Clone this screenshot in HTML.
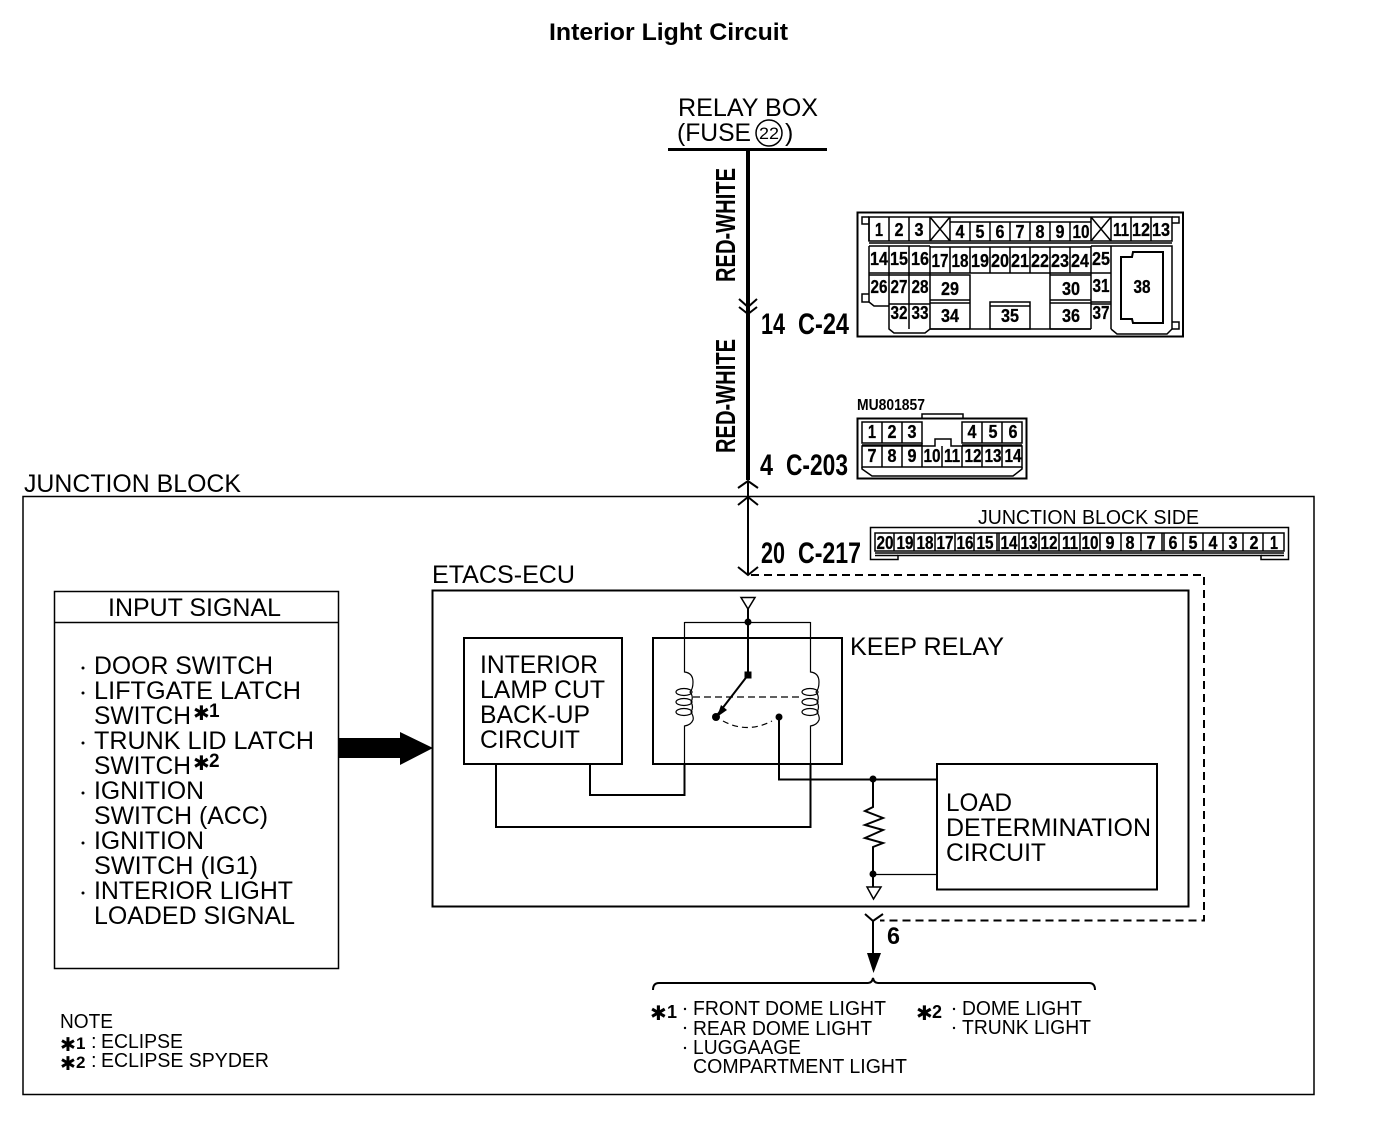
<!DOCTYPE html>
<html><head><meta charset="utf-8"><style>
html,body{margin:0;padding:0;background:#fff;width:1376px;height:1124px;overflow:hidden}
svg{display:block}
text{font-family:"Liberation Sans",sans-serif;fill:#000}
.b{font-size:25px}
.m{font-size:20px}
.h{font-weight:bold;font-size:30px}
.w{font-weight:bold;font-size:28px}
.n{font-weight:bold;font-size:18px;text-anchor:middle;stroke:#000;stroke-width:.3}
.s{font-family:"DejaVu Sans",sans-serif;font-weight:bold}
.l{fill:none;stroke:#000;stroke-width:2}
.c{fill:none;stroke:#000;stroke-width:1.5}
.f{fill:none;stroke:#000;stroke-width:1.2}
</style></head><body>
<svg width="1376" height="1124" viewBox="0 0 1376 1124" xmlns="http://www.w3.org/2000/svg">
<rect width="1376" height="1124" fill="#fff"/>
<text x="549" y="40" font-size="24" font-weight="bold" textLength="239" lengthAdjust="spacingAndGlyphs">Interior Light Circuit</text>

<!-- top feed -->
<text class="b" x="678" y="116" textLength="140" lengthAdjust="spacingAndGlyphs">RELAY BOX</text>
<text class="b" x="677" y="141" textLength="74" lengthAdjust="spacingAndGlyphs">(FUSE</text>
<circle cx="769" cy="133" r="13" class="c"/>
<text x="769" y="139" font-size="17" text-anchor="middle" textLength="20" lengthAdjust="spacingAndGlyphs">22</text>
<text class="b" x="785" y="141">)</text>
<path d="M668 149.500H827" stroke="#000" stroke-width="3" fill="none"/>
<path d="M748 149V480" stroke="#000" stroke-width="4" fill="none"/>
<text class="w" transform="translate(735,282) rotate(-90)" textLength="114" lengthAdjust="spacingAndGlyphs">RED-WHITE</text>
<text class="w" transform="translate(735,453) rotate(-90)" textLength="114" lengthAdjust="spacingAndGlyphs">RED-WHITE</text>
<path class="l" d="M739 299L748 307L757 299M739 307L748 314L757 307"/>
<text class="h" x="761" y="334" textLength="24" lengthAdjust="spacingAndGlyphs">14</text>
<text class="h" x="798" y="334" textLength="51" lengthAdjust="spacingAndGlyphs">C-24</text>
<text class="h" x="760" y="475" textLength="13" lengthAdjust="spacingAndGlyphs">4</text>
<text class="h" x="786" y="475" textLength="62" lengthAdjust="spacingAndGlyphs">C-203</text>
<text class="h" x="761" y="563" textLength="24" lengthAdjust="spacingAndGlyphs">20</text>
<text class="h" x="798" y="563" textLength="63" lengthAdjust="spacingAndGlyphs">C-217</text>
<path class="l" d="M738 488L748 481L758 488M738 505L748 497L758 505M738 567L748 575L758 567"/>
<path class="l" d="M748 481V575"/>
<path class="l" stroke-dasharray="8 5" d="M751 575H1204V920.500H880"/>

<!-- C-24 connector -->
<rect x="857.500" y="212.500" width="325.500" height="124" class="l"/>
<g class="c">
<path d="M869 217H1172V241H869Z"/>
<path d="M950 222H1091"/>
<path d="M869 217V241M889 217V241M909 217V241M930 217V241M950 217V241M970 222V241M990 222V241M1010 222V241M1030 222V241M1050 222V241M1070 222V241M1091 217V241M1111 217V241M1131 217V241M1151 217V241"/>
<path d="M930 217L950 241M950 217L930 241M1091 241L1111 217M1091 217L1111 241"/>
<path d="M869 243H1172"/>
<path d="M869 246V302L874 306H889V329L894 333H925L930 329H1091M869 273H930M869 275H930M889 246V329M909 246V329M930 246V329M889 304H930M869 246H930"/>
<path d="M930 247H1091M950 247V273M970 247V273M990 247V273M1010 247V273M1030 247V273M1050 247V273M1070 247V273M930 273H1091"/>
<path d="M930 275H970V329M930 300H970M930 303H970M930 329H970"/>
<path d="M1050 273V329M1050 275H1091M1050 300H1091M1050 303H1091M1050 329H1091"/>
<path d="M990 302H1030V329H990ZM990 306H1030"/>
<path d="M1091 246V329M1111 246V329M1091 246H1111M1091 273H1111M1091 302H1111M1091 304H1111"/>
<path d="M1111 246H1172V329L1167 334H1117L1111 329"/>
<path d="M1121 257H1132L1133 252H1163V323H1133L1132 319H1121Z" stroke-width="2"/>
<path d="M869 217H862V224H869M869 294H862V302H869M1172 217H1179V223H1172M1172 322H1179V329H1172"/>
</g>
<g class="n">
<text x="879" y="236" textLength="8" lengthAdjust="spacingAndGlyphs">1</text><text x="899" y="236" textLength="9" lengthAdjust="spacingAndGlyphs">2</text><text x="919" y="236" textLength="9" lengthAdjust="spacingAndGlyphs">3</text>
<text x="960" y="238" textLength="9" lengthAdjust="spacingAndGlyphs">4</text><text x="980" y="238" textLength="9" lengthAdjust="spacingAndGlyphs">5</text><text x="1000" y="238" textLength="9" lengthAdjust="spacingAndGlyphs">6</text><text x="1020" y="238" textLength="9" lengthAdjust="spacingAndGlyphs">7</text><text x="1040" y="238" textLength="9" lengthAdjust="spacingAndGlyphs">8</text><text x="1060" y="238" textLength="9" lengthAdjust="spacingAndGlyphs">9</text><text x="1081" y="238" textLength="17" lengthAdjust="spacingAndGlyphs">10</text>
<text x="1121" y="236" textLength="16" lengthAdjust="spacingAndGlyphs">11</text><text x="1141" y="236" textLength="18" lengthAdjust="spacingAndGlyphs">12</text><text x="1161" y="236" textLength="18" lengthAdjust="spacingAndGlyphs">13</text>
<text x="879" y="265" textLength="18" lengthAdjust="spacingAndGlyphs">14</text><text x="899" y="265" textLength="18" lengthAdjust="spacingAndGlyphs">15</text><text x="920" y="265" textLength="18" lengthAdjust="spacingAndGlyphs">16</text>
<text x="940" y="267" textLength="17" lengthAdjust="spacingAndGlyphs">17</text><text x="960" y="267" textLength="17" lengthAdjust="spacingAndGlyphs">18</text><text x="980" y="267" textLength="18" lengthAdjust="spacingAndGlyphs">19</text><text x="1000" y="267" textLength="18" lengthAdjust="spacingAndGlyphs">20</text><text x="1020" y="267" textLength="18" lengthAdjust="spacingAndGlyphs">21</text><text x="1040" y="267" textLength="18" lengthAdjust="spacingAndGlyphs">22</text><text x="1060" y="267" textLength="18" lengthAdjust="spacingAndGlyphs">23</text><text x="1080" y="267" textLength="18" lengthAdjust="spacingAndGlyphs">24</text>
<text x="1101" y="265" textLength="18" lengthAdjust="spacingAndGlyphs">25</text>
<text x="879" y="293" textLength="17" lengthAdjust="spacingAndGlyphs">26</text><text x="899" y="293" textLength="17" lengthAdjust="spacingAndGlyphs">27</text><text x="920" y="293" textLength="17" lengthAdjust="spacingAndGlyphs">28</text>
<text x="950" y="295" textLength="18" lengthAdjust="spacingAndGlyphs">29</text><text x="1071" y="295" textLength="18" lengthAdjust="spacingAndGlyphs">30</text><text x="1101" y="292" textLength="17" lengthAdjust="spacingAndGlyphs">31</text><text x="1142" y="293" textLength="17" lengthAdjust="spacingAndGlyphs">38</text>
<text x="899" y="319" textLength="17" lengthAdjust="spacingAndGlyphs">32</text><text x="920" y="319" textLength="17" lengthAdjust="spacingAndGlyphs">33</text>
<text x="950" y="322" textLength="18" lengthAdjust="spacingAndGlyphs">34</text><text x="1010" y="322" textLength="18" lengthAdjust="spacingAndGlyphs">35</text><text x="1071" y="322" textLength="18" lengthAdjust="spacingAndGlyphs">36</text><text x="1101" y="319" textLength="17" lengthAdjust="spacingAndGlyphs">37</text>
</g>

<!-- C-203 connector -->
<text x="857" y="410" font-size="16" font-weight="bold" textLength="68" lengthAdjust="spacingAndGlyphs">MU801857</text>
<g class="c">
<path d="M857.500 418.500H1026.500V478.500H857.500Z" stroke-width="2"/>
<path d="M922 418V414H963V418"/>
<path d="M862 422H922V443H862ZM882 422V443M902 422V443M962 422H1022V443H962ZM982 422V443M1002 422V443M862 445H922M962 445H1022"/>
<path d="M862 446H935V439H951V446H1022V467H862ZM882 446V467M902 446V467M922 443V467M942 446V467M962 446V467M982 446V467M1002 446V467"/>
<path d="M862 467V469L872 476H1013L1022 469V467"/>
</g>
<g class="n">
<text x="872" y="438" textLength="8" lengthAdjust="spacingAndGlyphs">1</text><text x="892" y="438" textLength="9" lengthAdjust="spacingAndGlyphs">2</text><text x="912" y="438" textLength="9" lengthAdjust="spacingAndGlyphs">3</text><text x="972" y="438" textLength="9" lengthAdjust="spacingAndGlyphs">4</text><text x="993" y="438" textLength="9" lengthAdjust="spacingAndGlyphs">5</text><text x="1013" y="438" textLength="9" lengthAdjust="spacingAndGlyphs">6</text>
<text x="872" y="462" textLength="9" lengthAdjust="spacingAndGlyphs">7</text><text x="892" y="462" textLength="9" lengthAdjust="spacingAndGlyphs">8</text><text x="912" y="462" textLength="9" lengthAdjust="spacingAndGlyphs">9</text><text x="932" y="462" textLength="17" lengthAdjust="spacingAndGlyphs">10</text><text x="952" y="462" textLength="16" lengthAdjust="spacingAndGlyphs">11</text><text x="973" y="462" textLength="17" lengthAdjust="spacingAndGlyphs">12</text><text x="993" y="462" textLength="17" lengthAdjust="spacingAndGlyphs">13</text><text x="1013" y="462" textLength="17" lengthAdjust="spacingAndGlyphs">14</text>
</g>

<!-- junction block -->
<rect x="23" y="496.500" width="1291" height="598" class="c"/>
<text class="b" x="24" y="492" textLength="217" lengthAdjust="spacingAndGlyphs">JUNCTION BLOCK</text>
<text class="m" x="978" y="524" textLength="221" lengthAdjust="spacingAndGlyphs">JUNCTION BLOCK SIDE</text>

<!-- C-217 connector -->
<g class="c">
<path d="M870.500 527.500H1288.500V559.500H1261V555.500H898V559.500H870.500Z"/>
<path d="M875 533H1284V551H875Z"/>
<path d="M894 533V551M914 533V551M935 533V551M955 533V551M974 533V551M997 533V551M999 533V551M1019 533V551M1039 533V551M1059 533V551M1080 533V551M1100 533V551M1121 533V551M1141 533V551M1162 533V551M1164 533V551M1183 533V551M1203 533V551M1223 533V551M1243 533V551M1263 533V551"/>
<path d="M875 553H1284M875 555.500H898M1261 555.500H1284"/>
</g>
<g class="n">
<text x="885" y="549" textLength="17" lengthAdjust="spacingAndGlyphs">20</text><text x="905" y="549" textLength="17" lengthAdjust="spacingAndGlyphs">19</text><text x="925" y="549" textLength="17" lengthAdjust="spacingAndGlyphs">18</text><text x="945" y="549" textLength="17" lengthAdjust="spacingAndGlyphs">17</text><text x="965" y="549" textLength="17" lengthAdjust="spacingAndGlyphs">16</text><text x="985" y="549" textLength="17" lengthAdjust="spacingAndGlyphs">15</text><text x="1009" y="549" textLength="17" lengthAdjust="spacingAndGlyphs">14</text><text x="1029" y="549" textLength="17" lengthAdjust="spacingAndGlyphs">13</text><text x="1049" y="549" textLength="17" lengthAdjust="spacingAndGlyphs">12</text><text x="1070" y="549" textLength="16" lengthAdjust="spacingAndGlyphs">11</text><text x="1090" y="549" textLength="17" lengthAdjust="spacingAndGlyphs">10</text>
<text x="1110" y="549" textLength="9" lengthAdjust="spacingAndGlyphs">9</text><text x="1130" y="549" textLength="9" lengthAdjust="spacingAndGlyphs">8</text><text x="1151" y="549" textLength="9" lengthAdjust="spacingAndGlyphs">7</text><text x="1173" y="549" textLength="9" lengthAdjust="spacingAndGlyphs">6</text><text x="1193" y="549" textLength="9" lengthAdjust="spacingAndGlyphs">5</text><text x="1213" y="549" textLength="9" lengthAdjust="spacingAndGlyphs">4</text><text x="1233" y="549" textLength="9" lengthAdjust="spacingAndGlyphs">3</text><text x="1254" y="549" textLength="9" lengthAdjust="spacingAndGlyphs">2</text><text x="1274" y="549" textLength="8" lengthAdjust="spacingAndGlyphs">1</text>
</g>

<!-- input signal -->
<rect x="54.500" y="591.500" width="284" height="377" class="c"/>
<path class="c" d="M54 622.500H338"/>
<text class="b" x="108" y="616" textLength="173" lengthAdjust="spacingAndGlyphs">INPUT SIGNAL</text>
<g fill="#000">
<circle cx="83" cy="668" r="1.500"/><circle cx="83" cy="693" r="1.500"/><circle cx="83" cy="743" r="1.500"/><circle cx="83" cy="793" r="1.500"/><circle cx="83" cy="843" r="1.500"/><circle cx="83" cy="893" r="1.500"/>
</g>
<text class="b" x="94" y="674" textLength="179" lengthAdjust="spacingAndGlyphs">DOOR SWITCH</text>
<text class="b" x="94" y="699" textLength="207" lengthAdjust="spacingAndGlyphs">LIFTGATE LATCH</text>
<text class="b" x="94" y="724" textLength="97" lengthAdjust="spacingAndGlyphs">SWITCH</text>
<text class="s" x="193" y="720" font-size="20">✱</text>
<text x="209" y="717" font-size="19" font-weight="bold">1</text>
<text class="b" x="94" y="749" textLength="220" lengthAdjust="spacingAndGlyphs">TRUNK LID LATCH</text>
<text class="b" x="94" y="774" textLength="97" lengthAdjust="spacingAndGlyphs">SWITCH</text>
<text class="s" x="193" y="770" font-size="20">✱</text>
<text x="209" y="767" font-size="19" font-weight="bold">2</text>
<text class="b" x="94" y="799" textLength="110" lengthAdjust="spacingAndGlyphs">IGNITION</text>
<text class="b" x="94" y="824" textLength="174" lengthAdjust="spacingAndGlyphs">SWITCH (ACC)</text>
<text class="b" x="94" y="849" textLength="110" lengthAdjust="spacingAndGlyphs">IGNITION</text>
<text class="b" x="94" y="874" textLength="164" lengthAdjust="spacingAndGlyphs">SWITCH (IG1)</text>
<text class="b" x="94" y="899" textLength="199" lengthAdjust="spacingAndGlyphs">INTERIOR LIGHT</text>
<text class="b" x="94" y="924" textLength="201" lengthAdjust="spacingAndGlyphs">LOADED SIGNAL</text>
<path d="M339 738H400V732L433 748L400 765V758H339Z" fill="#000"/>

<!-- ETACS -->
<text class="b" x="432" y="583" textLength="143" lengthAdjust="spacingAndGlyphs">ETACS-ECU</text>
<rect x="432.500" y="590.500" width="756" height="316" class="l"/>
<path d="M741 597.500H755L748 609Z" class="c" fill="#fff"/>
<path class="l" d="M748 609V675"/>
<circle cx="748" cy="622" r="3.500"/>
<path class="f" d="M684.500 622.500H810.500"/>
<rect x="464" y="638" width="158" height="126" class="l"/>
<text class="b" x="480" y="673" textLength="118" lengthAdjust="spacingAndGlyphs">INTERIOR</text>
<text class="b" x="480" y="698" textLength="125" lengthAdjust="spacingAndGlyphs">LAMP CUT</text>
<text class="b" x="480" y="723" textLength="110" lengthAdjust="spacingAndGlyphs">BACK-UP</text>
<text class="b" x="480" y="748" textLength="100" lengthAdjust="spacingAndGlyphs">CIRCUIT</text>
<rect x="653" y="638" width="189" height="126" class="l"/>
<text class="b" x="850" y="655" textLength="154" lengthAdjust="spacingAndGlyphs">KEEP RELAY</text>

<!-- coils -->
<path class="f" d="M684.500 622V672Q693 673 693 682Q693 689 690 692Q694 697 691 702Q694 707 691 712Q694 717 693 720Q691 725 684.500 726V765"/>
<path class="f" d="M810.500 622V672Q819 673 819 682Q819 689 816 692Q820 697 817 702Q820 707 817 712Q820 717 819 720Q817 725 810.500 726V765"/>
<g class="f">
<ellipse cx="684" cy="692" rx="8" ry="3.500"/><ellipse cx="684" cy="702" rx="8" ry="3.500"/><ellipse cx="684" cy="712" rx="8" ry="3.500"/>
<ellipse cx="810" cy="692" rx="8" ry="3.500"/><ellipse cx="810" cy="702" rx="8" ry="3.500"/><ellipse cx="810" cy="712" rx="8" ry="3.500"/>
</g>
<path class="l" d="M684.500 765V795H590V764M810.500 765V827H496V764"/>
<path class="f" stroke-dasharray="7 4" d="M693 697H800"/>
<path class="l" d="M748 675L718 714"/>
<path d="M717 717L721 705L727 710Z"/>
<rect x="744.500" y="671.500" width="7" height="7"/>
<circle cx="716" cy="717" r="4"/>
<circle cx="779" cy="717" r="3.500"/>
<path class="f" stroke-dasharray="6 4" d="M723 721Q747 734 772 721"/>
<path class="l" d="M779 717V779.500H937"/>

<!-- load determination -->
<rect x="937" y="764" width="220" height="125.500" class="l"/>
<text class="b" x="946" y="811" textLength="66" lengthAdjust="spacingAndGlyphs">LOAD</text>
<text class="b" x="946" y="836" textLength="205" lengthAdjust="spacingAndGlyphs">DETERMINATION</text>
<text class="b" x="946" y="861" textLength="100" lengthAdjust="spacingAndGlyphs">CIRCUIT</text>
<path class="l" d="M873 779V807L865 811L883 818L865 825L883 830L865 838L883 843L873 847V887"/>
<circle cx="873" cy="779" r="3.500"/>
<circle cx="873" cy="874" r="3.500"/>
<path class="f" d="M873 874.500H937"/>
<path d="M867 887H881L873.500 899Z" class="c" fill="#fff"/>

<!-- output -->
<path class="l" d="M865 914L873 921L883 914M873 921V955"/>
<path d="M867 953H881L873.500 973Z" fill="#000"/>
<text x="887" y="944" font-size="24" font-weight="bold" textLength="13" lengthAdjust="spacingAndGlyphs">6</text>
<path class="l" d="M653 990Q653 983 659 983H868Q872 983 873 978Q874 983 878 983H1089Q1095 983 1095 990"/>

<text class="s" x="650" y="1020" font-size="20">✱</text>
<text x="667" y="1018" font-size="18" font-weight="bold">1</text>
<text class="s" x="916" y="1020" font-size="20">✱</text>
<text x="932" y="1018" font-size="18" font-weight="bold">2</text>
<g fill="#000"><circle cx="685" cy="1009" r="1.200"/><circle cx="685" cy="1028" r="1.200"/><circle cx="685" cy="1048" r="1.200"/><circle cx="954" cy="1009" r="1.200"/><circle cx="954" cy="1028" r="1.200"/></g>
<text class="m" x="693" y="1015" textLength="193" lengthAdjust="spacingAndGlyphs">FRONT DOME LIGHT</text>
<text class="m" x="693" y="1035" textLength="179" lengthAdjust="spacingAndGlyphs">REAR DOME LIGHT</text>
<text class="m" x="693" y="1054" textLength="108" lengthAdjust="spacingAndGlyphs">LUGGAAGE</text>
<text class="m" x="693" y="1073" textLength="214" lengthAdjust="spacingAndGlyphs">COMPARTMENT LIGHT</text>
<text class="m" x="962" y="1015" textLength="120" lengthAdjust="spacingAndGlyphs">DOME LIGHT</text>
<text class="m" x="962" y="1034" textLength="129" lengthAdjust="spacingAndGlyphs">TRUNK LIGHT</text>

<!-- note -->
<text class="m" x="60" y="1028" textLength="53" lengthAdjust="spacingAndGlyphs">NOTE</text>
<text class="s" x="60" y="1051" font-size="19">✱</text>
<text x="76" y="1049" font-size="17" font-weight="bold">1</text>
<text class="m" x="91" y="1048">:</text>
<text class="m" x="101" y="1048" textLength="82" lengthAdjust="spacingAndGlyphs">ECLIPSE</text>
<text class="s" x="60" y="1070" font-size="19">✱</text>
<text x="76" y="1068" font-size="17" font-weight="bold">2</text>
<text class="m" x="91" y="1067">:</text>
<text class="m" x="101" y="1067" textLength="168" lengthAdjust="spacingAndGlyphs">ECLIPSE SPYDER</text>
</svg>
</body></html>
